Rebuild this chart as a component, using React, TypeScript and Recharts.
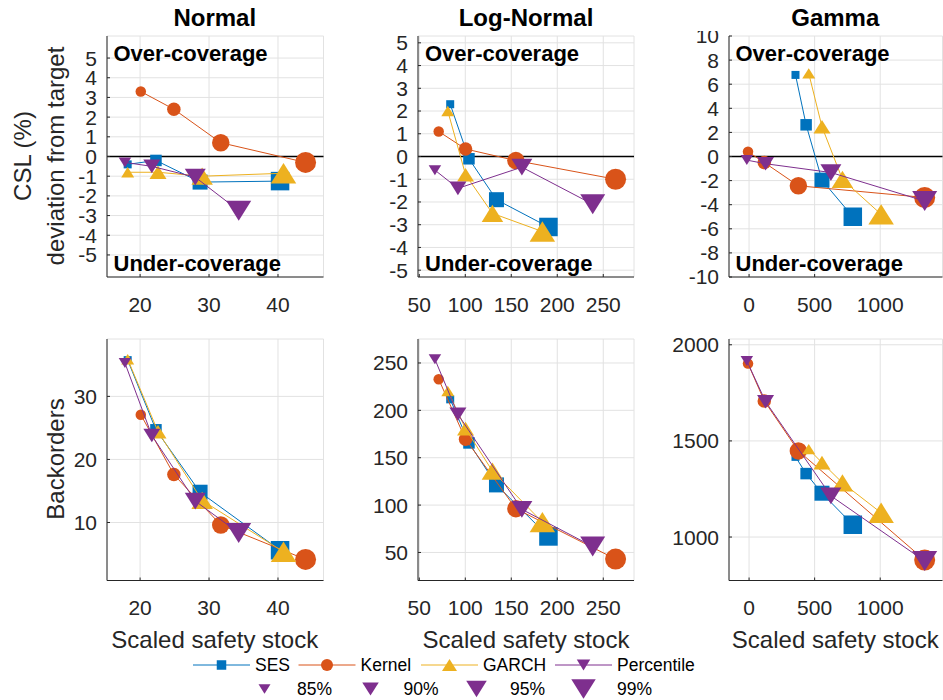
import { CartesianGrid, ReferenceLine, Scatter, ScatterChart, XAxis, YAxis } from 'recharts';

const COLORS = { ses: '#0072BD', kernel: '#D95319', garch: '#EDB120', pct: '#7E2F8E' };
const TICK_COLOR = '#262626';

// service levels shown by marker size
const LEVELS = ['85%', '90%', '95%', '99%'];

// Normal
const normalSesX = [18.2, 22.3, 28.7, 40.3];
const normalKernelX = [20.1, 24.9, 31.7, 44.0];
const normalGarchX = [18.2, 22.6, 29.0, 40.8];
const normalPctX = [17.8, 21.7, 28.0, 34.3];
const normalSesCsl = [-0.4, -0.2, -1.3, -1.25];
const normalKernelCsl = [3.3, 2.4, 0.7, -0.3];
const normalGarchCsl = [-0.8, -0.8, -1.0, -0.85];
const normalPctCsl = [-0.3, -0.5, -1.05, -2.75];
const normalSesBo = [35.75, 24.7, 14.8, 5.6];
const normalKernelBo = [27.1, 17.6, 9.6, 4.15];
const normalGarchBo = [35.9, 24.4, 13.5, 5.35];
const normalPctBo = [35.3, 23.8, 13.4, 8.35];

// Log-Normal
const lognSesX = [83.6, 104, 133.9, 190.4];
const lognKernelX = [71.1, 100.3, 155, 263.4];
const lognGarchX = [81, 100.3, 129.5, 183.8];
const lognPctX = [67, 92, 161.5, 238.5];
const lognSesCsl = [2.3, -0.1, -1.9, -3.1];
const lognKernelCsl = [1.1, 0.33, -0.18, -1.0];
const lognGarchCsl = [2.0, -0.8, -2.5, -3.3];
const lognPctCsl = [-0.6, -1.4, -0.47, -2.1];
const lognSesBo = [211.6, 165.6, 121.3, 66.9];
const lognKernelBo = [232.8, 169.5, 96.2, 43];
const lognGarchBo = [220.4, 180.7, 135.9, 82];
const lognPctBo = [253.9, 195.8, 95.5, 56.3];

// Gamma
const gammaSesX = [354, 435, 556, 791];
const gammaKernelX = [-8, 116, 376, 1339];
const gammaGarchX = [455, 556, 712, 1007];
const gammaPctX = [-17, 126, 624, 1339];
const gammaSesCsl = [6.77, 2.63, -1.96, -5.0];
const gammaKernelCsl = [0.39, -0.5, -2.43, -3.4];
const gammaGarchCsl = [6.9, 2.47, -1.9, -4.8];
const gammaPctCsl = [-0.3, -0.6, -1.33, -3.7];
const gammaSesBo = [1417, 1330, 1228, 1064];
const gammaKernelBo = [1902, 1708, 1448, 880];
const gammaGarchBo = [1457, 1387, 1282, 1126];
const gammaPctBo = [1916, 1704, 1214, 875];

const SQ = [8, 11.5, 15, 18.5];
const CI = [10.5, 13.5, 17.5, 21];
const UP = [13, 17, 21.5, 25.5];
const DN = [12.5, 17, 21, 25];

type Kind = 'square' | 'circle' | 'up' | 'down';

function Marker({ kind, cx, cy, size, color }: { kind: Kind; cx: number; cy: number; size: number; color: string }) {
  if (kind === 'square') {
    return <rect x={cx - size / 2} y={cy - size / 2} width={size} height={size} fill={color} />;
  }
  if (kind === 'circle') {
    return <circle cx={cx} cy={cy} r={size / 2} fill={color} />;
  }
  const h = size * 0.8;
  const pts =
    kind === 'up'
      ? `${cx},${cy - h / 2} ${cx + size / 2},${cy + h / 2} ${cx - size / 2},${cy + h / 2}`
      : `${cx},${cy + h / 2} ${cx + size / 2},${cy - h / 2} ${cx - size / 2},${cy - h / 2}`;
  return <polygon points={pts} fill={color} />;
}

const sizeFor = (kind: Kind, k: number) =>
  kind === 'square' ? SQ[k] : kind === 'circle' ? CI[k] : kind === 'up' ? UP[k] : DN[k];

type Series = { name: string; x: number[]; y: number[]; color: string; kind: Kind };

const mkSeries = (x: number[][], y: number[][]): Series[] => [
  { name: 'SES', x: x[0], y: y[0], color: COLORS.ses, kind: 'square' },
  { name: 'Kernel', x: x[1], y: y[1], color: COLORS.kernel, kind: 'circle' },
  { name: 'GARCH', x: x[2], y: y[2], color: COLORS.garch, kind: 'up' },
  { name: 'Percentile', x: x[3], y: y[3], color: COLORS.pct, kind: 'down' },
];

const normalX = [normalSesX, normalKernelX, normalGarchX, normalPctX];
const lognX = [lognSesX, lognKernelX, lognGarchX, lognPctX];
const gammaX = [gammaSesX, gammaKernelX, gammaGarchX, gammaPctX];

const COLS = [
  { l: 106.5, r: 323, xDomain: [15.2, 46.6], xTicks: [20, 30, 40], title: 'Normal', x: normalX },
  { l: 418, r: 634, xDomain: [48.6, 283.4], xTicks: [50, 100, 150, 200, 250], title: 'Log-Normal', x: lognX },
  { l: 728.5, r: 942, xDomain: [-153, 1475], xTicks: [0, 500, 1000], title: 'Gamma', x: gammaX },
];
const ROW1 = { t: 36, b: 277 };
const ROW2 = { t: 338.5, b: 580 };

const cslPanels = [
  { yDomain: [-6.12, 6.12], yTicks: [-5, -4, -3, -2, -1, 0, 1, 2, 3, 4, 5], y: [normalSesCsl, normalKernelCsl, normalGarchCsl, normalPctCsl] },
  { yDomain: [-5.3, 5.3], yTicks: [-5, -4, -3, -2, -1, 0, 1, 2, 3, 4, 5], y: [lognSesCsl, lognKernelCsl, lognGarchCsl, lognPctCsl] },
  { yDomain: [-10, 10], yTicks: [-10, -8, -6, -4, -2, 0, 2, 4, 6, 8, 10], y: [gammaSesCsl, gammaKernelCsl, gammaGarchCsl, gammaPctCsl] },
];
const boPanels = [
  { yDomain: [0.8, 39.1], yTicks: [10, 20, 30], y: [normalSesBo, normalKernelBo, normalGarchBo, normalPctBo] },
  { yDomain: [20.4, 275.3], yTicks: [50, 100, 150, 200, 250], y: [lognSesBo, lognKernelBo, lognGarchBo, lognPctBo] },
  { yDomain: [774, 2030], yTicks: [1000, 1500, 2000], y: [gammaSesBo, gammaKernelBo, gammaGarchBo, gammaPctBo] },
];

type PanelProps = {
  l: number; r: number; t: number; b: number;
  xDomain: number[]; xTicks: number[]; yDomain: number[]; yTicks: number[];
  series: Series[]; zeroLine?: boolean;
};

function Panel({ l, r, t, b, xDomain, xTicks, yDomain, yTicks, series, zeroLine }: PanelProps) {
  const w = r - l;
  const h = b - t;
  const tickStyle = { fill: TICK_COLOR, fontSize: 21 };
  return (
    <div style={{ position: 'absolute', left: l - 70, top: t - 5 }}>
      <ScatterChart width={w + 75} height={h + 55} margin={{ top: 5, right: 5, bottom: 0, left: 0 }}>
        <CartesianGrid stroke="#e2e2e2" />
        <XAxis type="number" dataKey="x" domain={xDomain} ticks={xTicks} interval={0} height={50}
          tickSize={-3} tickMargin={23} stroke={TICK_COLOR} tick={tickStyle} />
        <XAxis xAxisId="top" orientation="top" type="number" dataKey="x" domain={xDomain} ticks={xTicks}
          interval={0} height={0} tick={false} tickSize={-3} stroke={TICK_COLOR} allowDataOverflow />
        <YAxis type="number" dataKey="y" domain={yDomain} ticks={yTicks} interval={0} width={70}
          tickSize={-3} tickMargin={13} stroke={TICK_COLOR} tick={tickStyle} />
        <YAxis yAxisId="right" orientation="right" type="number" dataKey="y" domain={yDomain} ticks={yTicks}
          interval={0} width={0} tick={false} tickSize={-3} stroke={TICK_COLOR} allowDataOverflow />
        {zeroLine && <ReferenceLine y={0} stroke="#000" strokeWidth={1.3} />}
        {series.map((s) => (
          <Scatter
            key={s.name}
            name={s.name}
            data={s.x.map((v, i) => ({ x: v, y: s.y[i], k: i }))}
            fill={s.color}
            line={{ stroke: s.color, strokeWidth: 1 }}
            isAnimationActive={false}
            shape={(p: any) => (
              <Marker kind={s.kind} cx={p.cx} cy={p.cy} size={sizeFor(s.kind, p.payload.k)} color={s.color} />
            )}
          />
        ))}
      </ScatterChart>
    </div>
  );
}

const LEGEND_ITEMS = [
  { name: 'SES', kind: 'square' as Kind, color: COLORS.ses, size: 9.5, x: 193 },
  { name: 'Kernel', kind: 'circle' as Kind, color: COLORS.kernel, size: 12, x: 298.5 },
  { name: 'GARCH', kind: 'up' as Kind, color: COLORS.garch, size: 15, x: 421 },
  { name: 'Percentile', kind: 'down' as Kind, color: COLORS.pct, size: 13.5, x: 555 },
];

function Overlay() {
  const labelStyle = { fontSize: 24, fill: TICK_COLOR };
  return (
    <svg width={943} height={700} style={{ position: 'absolute', left: 0, top: 0, pointerEvents: 'none' }}>
      {COLS.map((c) => (
        <g key={c.title}>
          <text x={(c.l + c.r) / 2} y={26} textAnchor="middle" fontSize={24} fontWeight="bold" fill="#000">
            {c.title}
          </text>
          <text x={(c.l + c.r) / 2} y={648} textAnchor="middle" {...labelStyle}>
            Scaled safety stock
          </text>
          <text x={c.l + 7} y={61} fontSize={22} fontWeight="bold" fill="#000">Over-coverage</text>
          <text x={c.l + 7} y={271} fontSize={22} fontWeight="bold" fill="#000">Under-coverage</text>
        </g>
      ))}
      <text transform="translate(31,156) rotate(-90)" textAnchor="middle" {...labelStyle}>CSL (%)</text>
      <text transform="translate(64,156) rotate(-90)" textAnchor="middle" {...labelStyle}>deviation from target</text>
      <text transform="translate(64,459) rotate(-90)" textAnchor="middle" {...labelStyle}>Backorders</text>
      {LEGEND_ITEMS.map((it) => (
        <g key={it.name}>
          <line x1={it.x} x2={it.x + 57} y1={665} y2={665} stroke={it.color} strokeWidth={1} />
          <Marker kind={it.kind} cx={it.x + 28.5} cy={665} size={it.size} color={it.color} />
          <text x={it.x + 62} y={665} dominantBaseline="central" fontSize={17.5} fill="#000">{it.name}</text>
        </g>
      ))}
      {LEVELS.map((lv, i) => (
        <g key={lv}>
          <Marker kind="down" cx={LEGEND_ITEMS[i].x + 28.5 + (i === 0 ? 43 : i === 1 ? 43.5 : i === 2 ? 27 : 0)} cy={689} size={DN[i] - 0.5} color={COLORS.pct} />
          <text x={LEGEND_ITEMS[i].x + 62 + (i === 0 ? 42 : i === 1 ? 43 : i === 2 ? 27 : 0)} y={689} dominantBaseline="central" fontSize={17.5} fill="#000">{lv}</text>
        </g>
      ))}
    </svg>
  );
}

export default function App() {
  return (
    <div style={{ position: 'absolute', left: 0, top: 0, width: 943, height: 700, overflow: 'hidden', background: '#fff', fontFamily: '"Liberation Sans", Arial, sans-serif' }}>
      {COLS.map((c, i) => (
        <Panel key={`csl-${i}`} l={c.l} r={c.r} t={ROW1.t} b={ROW1.b} xDomain={c.xDomain} xTicks={c.xTicks}
          yDomain={cslPanels[i].yDomain} yTicks={cslPanels[i].yTicks} series={mkSeries(c.x, cslPanels[i].y)} zeroLine />
      ))}
      {COLS.map((c, i) => (
        <Panel key={`bo-${i}`} l={c.l} r={c.r} t={ROW2.t} b={ROW2.b} xDomain={c.xDomain} xTicks={c.xTicks}
          yDomain={boPanels[i].yDomain} yTicks={boPanels[i].yTicks} series={mkSeries(c.x, boPanels[i].y)} />
      ))}
      <Overlay />
    </div>
  );
}
